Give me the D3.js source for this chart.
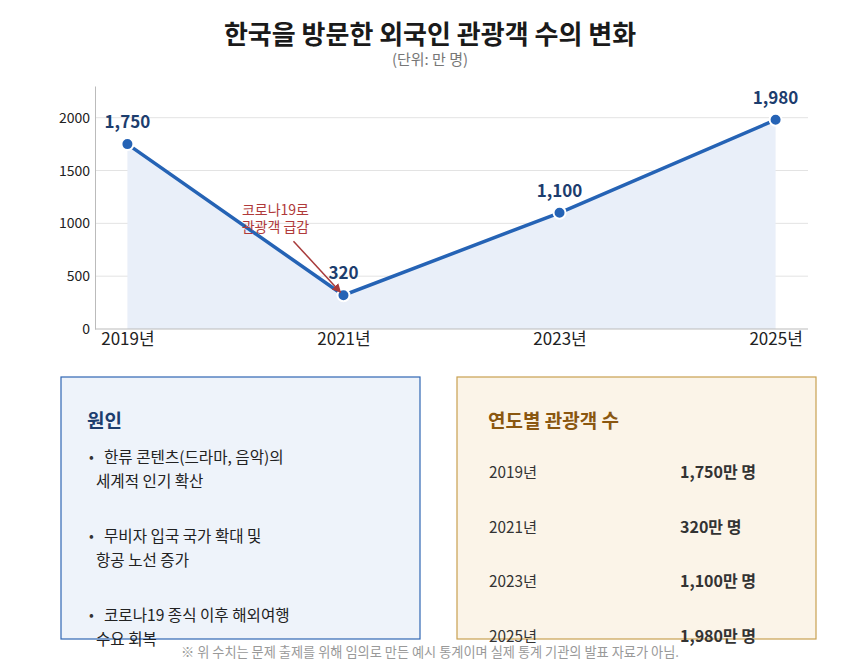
<!DOCTYPE html>
<html>
<head>
<meta charset="utf-8">
<script src="https://cdn.jsdelivr.net/npm/d3@7"></script>
<style>
  body { margin: 0; background: #fff; }
  svg { display: block; font-family: "Noto Sans CJK KR", "Noto Sans", sans-serif; }
</style>
</head>
<body>
<div id="chart"></div>
<script>
// data
var years = ["2019년", "2021년", "2023년", "2025년"];
var visitors = [1750, 320, 1100, 1980];
var yTicks = [0, 500, 1000, 1500, 2000];
var causes = [
  ["한류 콘텐츠(드라마, 음악)의", "세계적 인기 확산"],
  ["무비자 입국 국가 확대 및", "항공 노선 증가"],
  ["코로나19 종식 이후 해외여행", "수요 회복"]
];
var tableRows = ["2019년", "2021년", "2023년", "2025년"];
var tableValues = ["1,750만 명", "320만 명", "1,100만 명", "1,980만 명"];

var W = 860, H = 660;
var m = {left: 95, right: 52, top: 86, bottom: 331};

var svg = d3.select("#chart").append("svg")
    .attr("width", W)
    .attr("height", H);

// title
svg.append("text")
    .attr("x", 430).attr("y", 44)
    .attr("text-anchor", "middle")
    .attr("font-size", 26).attr("font-weight", 700).attr("fill", "#1a1a1a")
    .text("한국을 방문한 외국인 관광객 수의 변화");
svg.append("text")
    .attr("x", 430).attr("y", 65)
    .attr("text-anchor", "middle")
    .attr("font-size", 15).attr("fill", "#777")
    .text("(단위: 만 명)");

var x = d3.scalePoint()
    .domain(years)
    .range([m.left, W - m.right])
    .padding(0.15);

var y = d3.scaleLinear()
    .domain([0, 2300])
    .range([329, m.top]);

// grid
svg.append("g").selectAll("line")
    .data(yTicks.slice(1))
    .enter().append("line")
    .attr("x1", m.left).attr("x2", W - m.right)
    .attr("y1", function (d) { return y(d); })
    .attr("y2", function (d) { return y(d); })
    .attr("stroke", "#e3e3e3").attr("stroke-width", 1);

// area
var pts = years.map(function (yr, i) { return {yr: yr, v: visitors[i]}; });

svg.append("path")
    .datum(pts)
    .attr("fill", "#e9eff9")
    .attr("d", d3.area()
        .x(function (d) { return x(d.yr); })
        .y0(y(0))
        .y1(function (d) { return y(d.v); }));

// axes
var yAxis = svg.append("g")
    .attr("transform", "translate(" + m.left + ",0)")
    .call(d3.axisLeft(y).tickValues(yTicks).tickFormat(d3.format("d")).tickSize(0).tickPadding(5));
yAxis.select(".domain").attr("stroke", "#bbb");
yAxis.selectAll("text").attr("font-size", 14).attr("fill", "#222")
    .style("font-family", "\"Noto Sans CJK KR\", sans-serif");

var xAxis = svg.append("g")
    .attr("transform", "translate(0," + y(0) + ")")
    .call(d3.axisBottom(x).tickSize(0).tickPadding(4));
xAxis.select(".domain").attr("stroke", "#bbb")
    .attr("d", "M" + m.left + ",0H" + (W - m.right));
xAxis.selectAll("text").attr("font-size", 17).attr("fill", "#222")
    .style("font-family", "\"Noto Sans CJK KR\", sans-serif");

// line
svg.append("path")
    .datum(pts)
    .attr("fill", "none")
    .attr("stroke", "#2563b5")
    .attr("stroke-width", 3.5)
    .attr("d", d3.line()
        .x(function (d) { return x(d.yr); })
        .y(function (d) { return y(d.v); }));

svg.append("g").selectAll("circle")
    .data(pts)
    .enter().append("circle")
    .attr("cx", function (d) { return x(d.yr); })
    .attr("cy", function (d) { return y(d.v); })
    .attr("r", 6)
    .attr("fill", "#2563b5")
    .attr("stroke", "#fff").attr("stroke-width", 2);

svg.append("g").selectAll("text")
    .data(pts)
    .enter().append("text")
    .attr("x", function (d) { return x(d.yr); })
    .attr("y", function (d) { return y(d.v) - 16; })
    .attr("text-anchor", "middle")
    .attr("font-size", 17).attr("font-weight", 700).attr("fill", "#1c3d6e")
    .text(function (d) { return d3.format(",")(d.v); });

// annotation
svg.append("defs").append("marker")
    .attr("id", "arr")
    .attr("viewBox", "0 0 10 10")
    .attr("refX", 9).attr("refY", 5)
    .attr("markerWidth", 6).attr("markerHeight", 6)
    .attr("orient", "auto")
    .append("path").attr("d", "M0,0L10,5L0,10z").attr("fill", "#a83a3a");

var ax = x("2021년"), ay = y(320);
svg.append("line")
    .attr("x1", ax - 50).attr("y1", ay - 54)
    .attr("x2", ax - 3).attr("y2", ay - 3)
    .attr("stroke", "#a83a3a").attr("stroke-width", 1.5)
    .attr("marker-end", "url(#arr)");

var note = svg.append("text")
    .attr("text-anchor", "middle")
    .attr("font-size", 14).attr("fill", "#b03a3a");
note.append("tspan").attr("x", ax - 68).attr("y", ay - 80).text("코로나19로");
note.append("tspan").attr("x", ax - 68).attr("y", ay - 63).text("관광객 급감");

// left box: causes
svg.append("rect")
    .attr("x", 61).attr("y", 377).attr("width", 359).attr("height", 262)
    .attr("fill", "#eef3fa").attr("stroke", "#2f66b3").attr("stroke-width", 1.2);
svg.append("text")
    .attr("x", 87).attr("y", 428)
    .attr("font-size", 19).attr("font-weight", 700).attr("fill", "#1c3d6e")
    .text("원인");

var cg = svg.append("g").selectAll("g")
    .data(causes)
    .enter().append("g")
    .attr("transform", function (d, i) { return "translate(0," + (i * 79) + ")"; });
cg.append("text")
    .attr("x", 89).attr("y", 462)
    .attr("font-size", 14).attr("fill", "#333")
    .text("•");
cg.append("text")
    .attr("x", 104).attr("y", 463)
    .attr("font-size", 15.6).attr("fill", "#222")
    .text(function (d) { return d[0]; });
cg.append("text")
    .attr("x", 96).attr("y", 487)
    .attr("font-size", 15.6).attr("fill", "#222")
    .text(function (d) { return d[1]; });

// right box: table
svg.append("rect")
    .attr("x", 457).attr("y", 377).attr("width", 359).attr("height", 262)
    .attr("fill", "#fbf4e8").attr("stroke", "#c9a050").attr("stroke-width", 1.2);
svg.append("text")
    .attr("x", 488).attr("y", 428)
    .attr("font-size", 19).attr("font-weight", 700).attr("fill", "#8a5710")
    .text("연도별 관광객 수");

var rg = svg.append("g").selectAll("g")
    .data(tableRows)
    .enter().append("g")
    .attr("transform", function (d, i) { return "translate(0," + (i * 54.5) + ")"; });
rg.append("text")
    .attr("x", 489).attr("y", 478)
    .attr("font-size", 15.3).attr("fill", "#333")
    .text(function (d) { return d; });
rg.append("text")
    .attr("x", 680).attr("y", 478)
    .attr("font-size", 16).attr("font-weight", 700).attr("fill", "#333")
    .text(function (d, i) { return tableValues[i]; });

// footnote
svg.append("text")
    .attr("x", 430).attr("y", 657)
    .attr("text-anchor", "middle")
    .attr("font-size", 13.2).attr("fill", "#999")
    .text("※ 위 수치는 문제 출제를 위해 임의로 만든 예시 통계이며 실제 통계 기관의 발표 자료가 아님.");
</script>
</body>
</html>
